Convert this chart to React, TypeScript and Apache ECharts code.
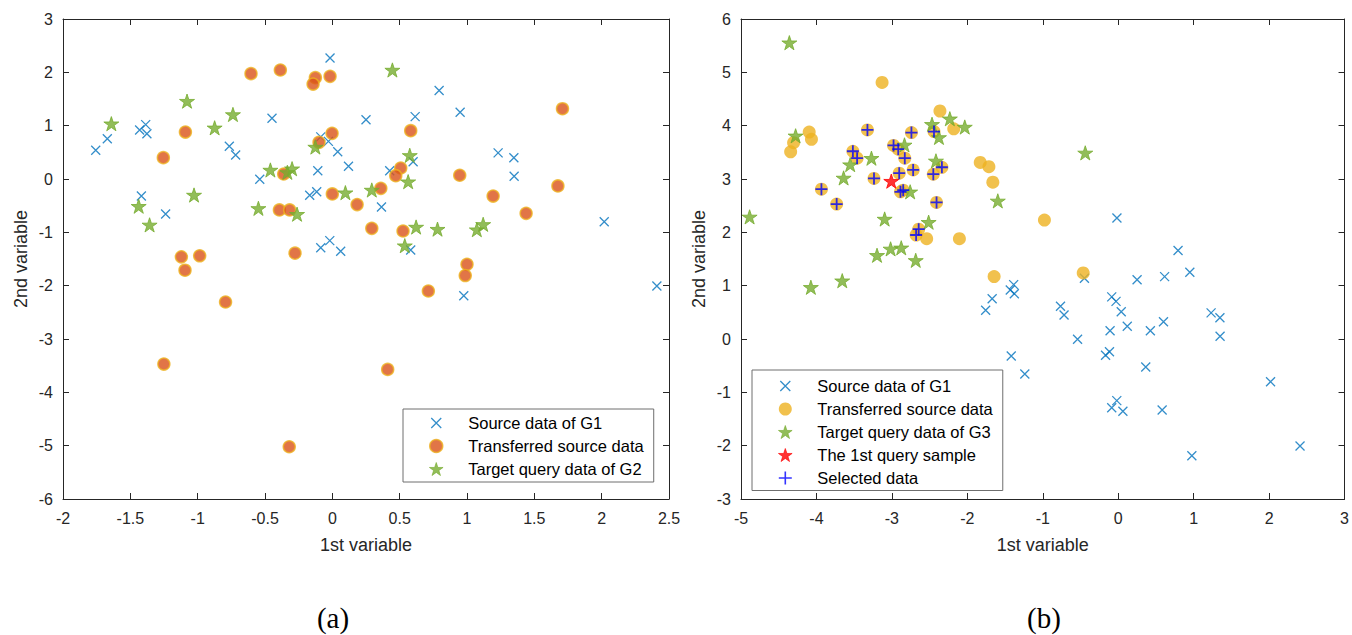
import React, { useEffect, useRef } from "react";
import * as echarts from "echarts";

// ---------- data ----------
const sourceG1: number[][] = [
  [-1.757, 0.54], [-1.671, 0.756], [-1.431, 0.919], [-1.386, 1.02], [-1.377, 0.85],
  [-1.418, -0.319], [-1.238, -0.656], [-0.448, 1.138], [-0.765, 0.613], [-0.718, 0.45],
  [-0.539, -0.006], [-0.017, 2.27], [-0.086, 0.79], [-0.029, 0.706], [0.04, 0.51],
  [0.12, 0.24], [-0.108, 0.156], [-0.168, -0.306], [-0.116, -0.24], [-0.086, -1.29],
  [-0.019, -1.156], [0.062, -1.356], [0.25, 1.11], [0.615, 1.17], [0.793, 1.66],
  [0.949, 1.25], [1.231, 0.49], [1.348, 0.4], [1.35, 0.05], [2.019, -0.8],
  [0.426, 0.156], [0.6, 0.325], [0.365, -0.525], [0.582, -1.33], [2.41, -2.006],
  [0.976, -2.19],
];

const transferredA: number[][] = [
  [-0.604, 1.975], [-0.386, 2.044], [-0.126, 1.9], [-0.143, 1.78], [-0.017, 1.925],
  [-1.091, 0.88], [-1.255, 0.4], [-0.002, 0.856], [-0.099, 0.688], [-0.361, 0.094],
  [0.0, -0.28], [-0.393, -0.58], [-0.317, -0.58], [0.184, -0.48], [-0.277, -1.39],
  [-1.121, -1.46], [-0.985, -1.44], [-1.094, -1.71], [1.709, 1.318], [0.582, 0.906],
  [0.508, 0.206], [0.471, 0.062], [0.946, 0.07], [0.36, -0.175], [1.194, -0.32],
  [1.675, -0.13], [1.439, -0.644], [0.293, -0.925], [0.525, -0.975], [-0.793, -2.306],
  [-1.251, -3.47], [0.411, -3.57], [0.713, -2.1], [1.0, -1.6], [0.987, -1.81],
  [-0.32, -5.02],
];

const targetG2: number[][] = [
  [-1.641, 1.037], [-1.079, 1.46], [-0.874, 0.96], [-0.738, 1.21], [-1.438, -0.51],
  [-1.357, -0.86], [-1.027, -0.3], [-0.549, -0.55], [-0.46, 0.169], [-0.334, 0.125],
  [-0.299, 0.193], [-0.262, -0.66], [-0.126, 0.6], [0.097, -0.256], [0.446, 2.044],
  [0.575, 0.444], [0.563, -0.05], [0.293, -0.206], [0.622, -0.9], [0.781, -0.94],
  [1.073, -0.95], [1.12, -0.85], [0.538, -1.25],
];

const selectedB: number[][] = [
  [-3.324, 3.92], [-2.741, 3.87], [-2.442, 3.89], [-3.517, 3.52], [-3.461, 3.39],
  [-2.978, 3.63], [-2.916, 3.56], [-2.829, 3.39], [-2.337, 3.22], [-2.451, 3.09],
  [-2.718, 3.17], [-2.903, 3.11], [-3.237, 3.01], [-3.934, 2.81], [-3.732, 2.53],
  [-2.886, 2.76], [-2.85, 2.79], [-2.408, 2.56], [-2.679, 1.95], [-2.645, 2.06],
];

const transferredBOther: number[][] = [
  [-3.13, 4.81], [-2.363, 4.275], [-2.18, 3.94], [-4.096, 3.88], [-4.066, 3.745],
  [-4.303, 3.68], [-4.342, 3.51], [-1.829, 3.31], [-1.714, 3.23], [-1.662, 2.94],
  [-0.978, 2.23], [-2.105, 1.88], [-2.539, 1.88], [-1.645, 1.17], [-0.464, 1.238],
];

const transferredB: number[][] = [...transferredBOther, ...selectedB];

const targetG3: number[][] = [
  [-4.359, 5.556], [-4.276, 3.81], [-2.468, 4.026], [-2.232, 4.13], [-2.034, 3.975],
  [-2.376, 3.78], [-2.833, 3.64], [-3.271, 3.39], [-3.553, 3.27], [-3.64, 3.02],
  [-2.416, 3.34], [-2.758, 2.76], [-1.596, 2.59], [-4.886, 2.29], [-3.096, 2.25],
  [-2.513, 2.19], [-3.017, 1.69], [-2.876, 1.71], [-3.197, 1.57], [-2.684, 1.475],
  [-3.658, 1.093], [-4.074, 0.97], [-0.437, 3.49],
];

const querySample: number[][] = [[-3.008, 2.96]];

const legendLabels: Record<string, string> = {
  aG1: "Source data of G1",
  aTr: "Transferred source data",
  aG2: "Target query data of G2",
  bG1: "Source data of G1",
  bTr: "Transferred source data",
  bG3: "Target query data of G3",
  bQ: "The 1st query sample",
  bSel: "Selected data",
};

const axisNameX = "1st variable";
const axisNameY = "2nd variable";
const panelA = "(a)";
const panelB = "(b)";

// ---------- styles ----------
const AX = "#262626";
const SANS = "Liberation Sans, Arial, sans-serif";
const SERIF = "Liberation Serif, Times New Roman, serif";
const X_SYM = "path://M0 0L10 10M0 10L10 0";
const X_LEG = "path://M-1.5 -1.5M11.5 11.5M0 0L10 10M0 10L10 0";
const PLUS_SYM = "path://M5 0L5 10M0 5L10 5";
const STAR_SYM =
  "path://M50 0L61.2 34.5L97.6 34.5L68.2 55.9L79.4 90.5L50 69.1L20.6 90.5L31.8 55.9L2.4 34.5L38.8 34.5Z";

function mainX(grid: number, min: number, max: number, interval: number) {
  return {
    type: "value",
    gridIndex: grid,
    position: "bottom",
    min,
    max,
    interval,
    name: axisNameX,
    nameLocation: "middle",
    nameGap: 37,
    nameTextStyle: { color: AX, fontSize: 18, fontFamily: SANS },
    axisLine: { show: true, onZero: false, lineStyle: { color: AX, width: 1 } },
    axisTick: { show: true, inside: true, length: 6, lineStyle: { color: AX } },
    axisLabel: { show: true, color: AX, fontSize: 16, fontFamily: SANS, margin: 11 },
    splitLine: { show: false },
  };
}
function mirrorX(grid: number, min: number, max: number, interval: number) {
  return {
    type: "value",
    gridIndex: grid,
    position: "top",
    min,
    max,
    interval,
    axisLine: { show: true, onZero: false, lineStyle: { color: AX, width: 1 } },
    axisTick: { show: true, inside: true, length: 6, lineStyle: { color: AX } },
    axisLabel: { show: false },
    splitLine: { show: false },
  };
}
function mainY(grid: number, min: number, max: number, interval: number) {
  return {
    type: "value",
    gridIndex: grid,
    position: "left",
    min,
    max,
    interval,
    name: axisNameY,
    nameLocation: "middle",
    nameGap: 33,
    nameRotate: 90,
    nameTextStyle: { color: AX, fontSize: 18, fontFamily: SANS },
    axisLine: { show: true, onZero: false, lineStyle: { color: AX, width: 1 } },
    axisTick: { show: true, inside: true, length: 6, lineStyle: { color: AX } },
    axisLabel: { show: true, color: AX, fontSize: 16, fontFamily: SANS, margin: 10 },
    splitLine: { show: false },
  };
}
function mirrorY(grid: number, min: number, max: number, interval: number) {
  return {
    type: "value",
    gridIndex: grid,
    position: "right",
    min,
    max,
    interval,
    axisLine: { show: true, onZero: false, lineStyle: { color: AX, width: 1 } },
    axisTick: { show: true, inside: true, length: 6, lineStyle: { color: AX } },
    axisLabel: { show: false },
    splitLine: { show: false },
  };
}

function legendItem(name: string) {
  if (name.endsWith("G1")) return { name, icon: X_LEG, itemStyle: { borderWidth: 1.3 } };
  if (name.endsWith("G2") || name.endsWith("G3") || name === "bQ")
    return { name, itemStyle: { borderWidth: 0.8 } };
  if (name === "bSel") return { name, itemStyle: { borderWidth: 1.6 } };
  if (name === "aTr") return { name, itemStyle: { borderWidth: 1.5 } };
  return { name };
}

function legendBox(left: number, top: number, names: string[], padTop: number, padBottom: number) {
  return {
    show: true,
    orient: "vertical",
    left,
    top,
    data: names.map(legendItem),
    selectedMode: false,
    itemWidth: 54,
    itemHeight: 13,
    itemGap: 6,
    padding: [padTop, 10, padBottom, 26],
    backgroundColor: "#ffffff",
    borderColor: "#6e6e6e",
    borderWidth: 1,
    borderRadius: 0,
    formatter: (n: string) => legendLabels[n] || n,
    textStyle: { color: "#000000", fontSize: 16.5, fontFamily: SANS, lineHeight: 17 },
  };
}

export default function App() {
  const ref = useRef<HTMLDivElement>(null);
  useEffect(() => {
    if (!ref.current) return;
    const chart = echarts.init(ref.current, null, { renderer: "svg" });
    const option: any = {
      animation: false,
      backgroundColor: "#ffffff",
      grid: [
        { left: 63, top: 19, width: 606, height: 480, containLabel: false },
        { left: 741, top: 19, width: 607, height: 480, containLabel: false },
      ],
      xAxis: [
        mainX(0, -2, 2.5, 0.5),
        mirrorX(0, -2, 2.5, 0.5),
        mainX(1, -5, 3, 1),
        mirrorX(1, -5, 3, 1),
      ],
      yAxis: [
        mainY(0, -6, 3, 1),
        mirrorY(0, -6, 3, 1),
        mainY(1, -3, 6, 1),
        mirrorY(1, -3, 6, 1),
      ],
      legend: [
        legendBox(403, 409, ["aG1", "aTr", "aG2"], 5.5, 4.5),
        legendBox(752, 370, ["bG1", "bTr", "bG3", "bQ", "bSel"], 7.5, 4),
      ],
      graphic: [
        {
          type: "text",
          x: 333,
          y: 618,
          style: {
            text: panelA,
            fill: "#000000",
            font: `29px ${SERIF}`,
            textAlign: "center",
            textVerticalAlign: "middle",
          },
        },
        {
          type: "text",
          x: 1044,
          y: 618,
          style: {
            text: panelB,
            fill: "#000000",
            font: `29px ${SERIF}`,
            textAlign: "center",
            textVerticalAlign: "middle",
          },
        },
      ],
      series: [
        {
          name: "aG1",
          type: "scatter",
          xAxisIndex: 0,
          yAxisIndex: 0,
          data: sourceG1,
          symbol: X_SYM,
          symbolSize: 9,
          silent: true,
          itemStyle: { color: "#0072BD", borderColor: "#0072BD", borderWidth: 1.3 },
        },
        {
          name: "aTr",
          type: "scatter",
          xAxisIndex: 0,
          yAxisIndex: 0,
          data: transferredA,
          symbol: "circle",
          symbolSize: 12,
          silent: true,
          itemStyle: { color: "#D95319", borderColor: "#EDB120", borderWidth: 1.5 },
        },
        {
          name: "aG2",
          type: "scatter",
          xAxisIndex: 0,
          yAxisIndex: 0,
          data: targetG2,
          symbol: STAR_SYM,
          symbolKeepAspect: true,
          symbolSize: 15,
          silent: true,
          itemStyle: { color: "#77AC30", borderColor: "#77AC30", borderWidth: 1 },
        },
        {
          name: "bG1",
          type: "scatter",
          xAxisIndex: 2,
          yAxisIndex: 2,
          data: sourceG1,
          symbol: X_SYM,
          symbolSize: 9,
          silent: true,
          itemStyle: { color: "#0072BD", borderColor: "#0072BD", borderWidth: 1.3 },
        },
        {
          name: "bTr",
          type: "scatter",
          xAxisIndex: 2,
          yAxisIndex: 2,
          data: transferredB,
          symbol: "circle",
          symbolSize: 13,
          silent: true,
          itemStyle: { color: "#EDB120", borderWidth: 0 },
        },
        {
          name: "bG3",
          type: "scatter",
          xAxisIndex: 2,
          yAxisIndex: 2,
          data: targetG3,
          symbol: STAR_SYM,
          symbolKeepAspect: true,
          symbolSize: 15,
          silent: true,
          itemStyle: { color: "#77AC30", borderColor: "#77AC30", borderWidth: 1 },
        },
        {
          name: "bQ",
          type: "scatter",
          xAxisIndex: 2,
          yAxisIndex: 2,
          data: querySample,
          symbol: STAR_SYM,
          symbolKeepAspect: true,
          symbolSize: 15,
          silent: true,
          itemStyle: { color: "#FF0000", borderColor: "#FF0000", borderWidth: 1 },
        },
        {
          name: "bSel",
          type: "scatter",
          xAxisIndex: 2,
          yAxisIndex: 2,
          data: selectedB,
          symbol: PLUS_SYM,
          symbolSize: 12,
          silent: true,
          itemStyle: { color: "#0000FF", borderColor: "#0000FF", borderWidth: 1.8 },
        },
      ],
    };
    chart.setOption(option);
    return () => chart.dispose();
  }, []);
  return (
    <div
      ref={ref}
      style={{ position: "fixed", left: 0, top: 0, width: 1352, height: 635, background: "#fff" }}
    />
  );
}
